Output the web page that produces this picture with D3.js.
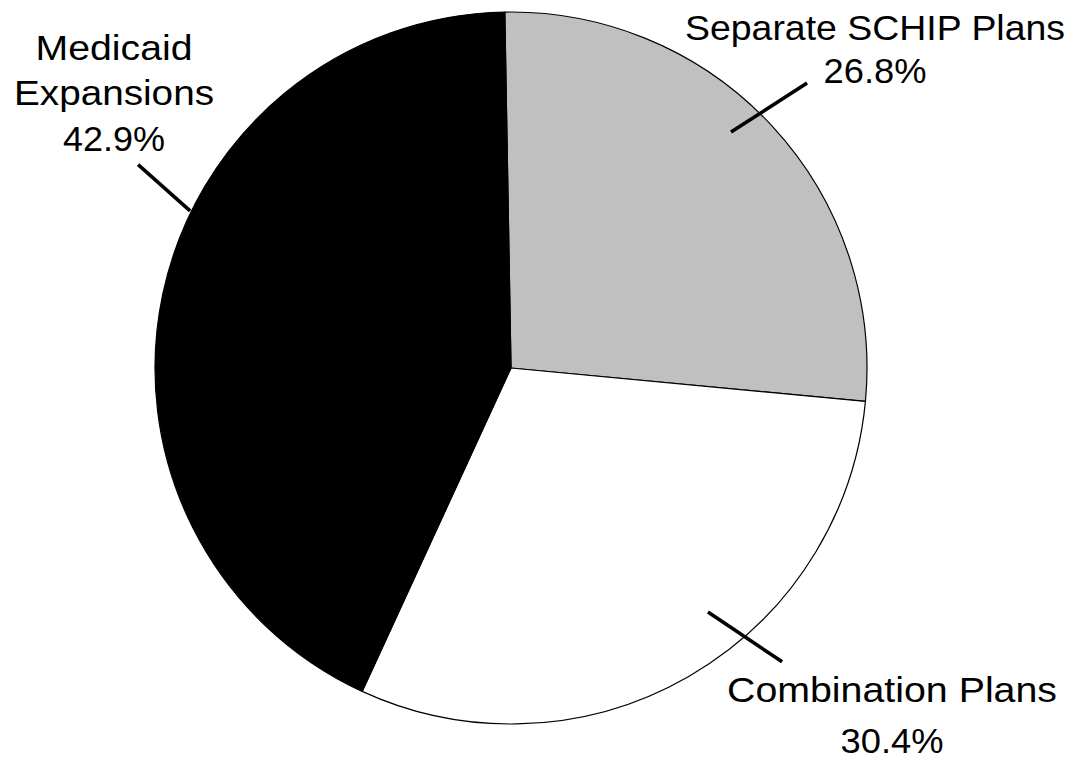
<!DOCTYPE html>
<html><head><meta charset="utf-8">
<script src="https://cdn.jsdelivr.net/npm/d3@7/dist/d3.min.js"></script>
<style>html,body{margin:0;padding:0;background:#fff;}</style>
</head><body>
<svg id="chart" width="1074" height="761"></svg>
<script>
// data
const categories = ["Separate SCHIP Plans", "Combination Plans", "Medicaid Expansions"];
const values = [26.8, 30.4, 42.9];
const valueLabels = ["26.8%", "30.4%", "42.9%"];
const colors = ["#c0c0c0", "#ffffff", "#000000"];

// layout
const cx = 511, cy = 368, R = 356;
const startDeg = -1;
const labelLayout = [
  {lines:["Separate SCHIP Plans","26.8%"], x:875, ys:[40,83], widths:[380,103],
   leader:{a0:43.0,r0:322.6,a1:46.1,r1:410.9}},
  {lines:["Combination Plans","30.4%"], x:892, ys:[702,753], widths:[330,103],
   leader:{a0:141.1,r0:313.6,a1:137.3,r1:399.8}},
  {lines:["Medicaid","Expansions","42.9%"], x:114, ys:[59.5,105,150.5], widths:[157,200,102],
   leader:{a0:296.1,r0:357.3,a1:298.6,r1:424.7}}
];

const svg = d3.select("#chart");
const g = svg.append("g").attr("transform", `translate(${cx},${cy})`);
const rad = d => d * Math.PI / 180;

const pie = d3.pie().sort(null).value(d => d)
  .startAngle(rad(startDeg)).endAngle(rad(startDeg + 360));
const arc = d3.arc().innerRadius(0).outerRadius(R);

g.selectAll("path.slice").data(pie(values)).join("path")
  .attr("class","slice")
  .attr("d", arc)
  .attr("fill", (d,i) => colors[i])
  .attr("stroke", "#000")
  .attr("stroke-width", 1.2)
  .attr("stroke-linejoin","round");

// leader lines
labelLayout.forEach(L => {
  const p0 = d3.pointRadial(rad(L.leader.a0), L.leader.r0);
  const p1 = d3.pointRadial(rad(L.leader.a1), L.leader.r1);
  g.append("line")
    .attr("x1", p0[0]).attr("y1", p0[1])
    .attr("x2", p1[0]).attr("y2", p1[1])
    .attr("stroke","#000").attr("stroke-width",3.6);
});

// labels
labelLayout.forEach((L, k) => {
  L.lines.forEach((t, j) => {
    const txt = j === L.lines.length - 1 ? valueLabels[k] : t;
    svg.append("text")
      .attr("x", L.x).attr("y", L.ys[j])
      .attr("text-anchor","middle")
      .attr("font-family","'Liberation Sans', Arial, sans-serif")
      .attr("font-size", 34.5)
      .attr("fill","#000")
      .attr("textLength", L.widths[j])
      .attr("lengthAdjust","spacingAndGlyphs")
      .text(txt);
  });
});
</script>
</body></html>
